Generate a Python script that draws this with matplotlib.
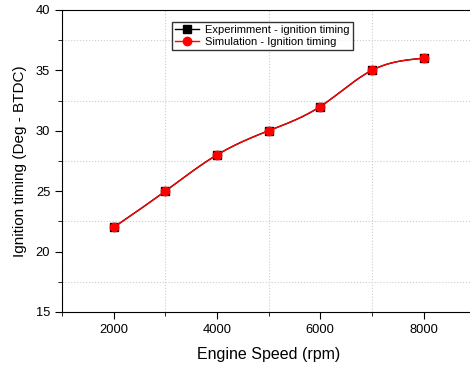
import numpy as np
import matplotlib
matplotlib.use("Agg")
import matplotlib.pyplot as plt
from matplotlib.ticker import MultipleLocator

speed = [2000, 3000, 4000, 5000, 6000, 7000, 8000]
exp_timing = [22, 25, 28, 30, 32, 35, 36]
sim_timing = [22, 25, 28, 30, 32, 35, 36]

plt.rcParams['font.family'] = ['Liberation Sans', 'DejaVu Sans']

def natural_spline(x, y, n=300):
    x = np.asarray(x, float); y = np.asarray(y, float)
    k = len(x); h = np.diff(x)
    A = np.zeros((k, k)); b = np.zeros(k)
    A[0, 0] = A[-1, -1] = 1
    for i in range(1, k - 1):
        A[i, i - 1] = h[i - 1]; A[i, i] = 2 * (h[i - 1] + h[i]); A[i, i + 1] = h[i]
        b[i] = 3 * ((y[i + 1] - y[i]) / h[i] - (y[i] - y[i - 1]) / h[i - 1])
    c = np.linalg.solve(A, b)
    xs = np.linspace(x[0], x[-1], n); ys = np.empty_like(xs)
    for j, xv in enumerate(xs):
        i = min(np.searchsorted(x, xv, side='right') - 1, k - 2)
        d = xv - x[i]
        bb = (y[i + 1] - y[i]) / h[i] - h[i] * (2 * c[i] + c[i + 1]) / 3
        dd = (c[i + 1] - c[i]) / (3 * h[i])
        ys[j] = y[i] + bb * d + c[i] * d ** 2 + dd * d ** 3
    return xs, ys

fig = plt.figure(figsize=(4.70, 3.67), dpi=100)
ax = fig.add_axes([0.132, 0.150, 0.879, 0.823])

xe, ye = natural_spline(speed, exp_timing)
xs, ys = natural_spline(speed, sim_timing)
ax.plot(xe, ye, color='black', lw=1)
ax.plot(speed, exp_timing, 's', color='black', ms=6)
ax.plot(xs, ys, color='red', lw=1)
ax.plot(speed, sim_timing, 'o', color='red', ms=6)

h1, = ax.plot([], [], '-s', color='black', ms=6, lw=1, label='Experimment - ignition timing')
h2, = ax.plot([], [], '-o', color='red', ms=6, lw=1, label='Simulation - Ignition timing')

ax.set_xlim(1000, 9000)
ax.set_ylim(15, 40)
ax.spines['right'].set_visible(False)
ax.xaxis.set_major_locator(MultipleLocator(2000))
ax.xaxis.set_minor_locator(MultipleLocator(1000))
ax.yaxis.set_major_locator(MultipleLocator(5))
ax.yaxis.set_minor_locator(MultipleLocator(2.5))
ax.grid(which='minor', color='#cccccc', linestyle=':', lw=0.8)
ax.grid(which='major', visible=False)
ax.tick_params(which='major', direction='out', length=5, labelsize=9.3)
ax.tick_params(which='minor', direction='out', length=3)
ax.set_xlabel('Engine Speed (rpm)', fontsize=11.5, labelpad=8)
ax.set_ylabel('Ignition timing (Deg - BTDC)', fontsize=11, labelpad=6)

leg = ax.legend(handles=[h1, h2], loc='upper left', bbox_to_anchor=(0.252, 0.98),
                fontsize=8, frameon=True, fancybox=False, edgecolor='black',
                handlelength=2.2, borderpad=0.3, labelspacing=0.2, handletextpad=0.5)
leg.get_frame().set_linewidth(1)

fig.savefig('out.png', dpi=100)
